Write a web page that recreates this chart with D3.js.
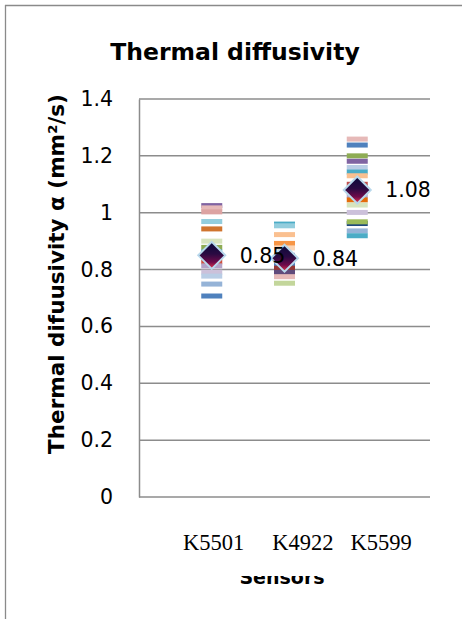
<!DOCTYPE html>
<html>
<head>
<meta charset="utf-8">
<script src="https://cdn.jsdelivr.net/npm/d3@7"></script>
<style>
  body { margin: 0; background: #fff; }
  text { font-family: 'DejaVu Sans', sans-serif; }
</style>
</head>
<body>
<svg id="chart" width="462" height="619"></svg>
<script>
'use strict';

let sensors = ["K5501", "K4922", "K5599"];
let means = [0.85, 0.84, 1.08];
let yTicks = [0, 0.2, 0.4, 0.6, 0.8, 1, 1.2, 1.4];

// measured values per sensor (drawn in this order)
let k5501Values = [1.025, 1.017, 1.003, 0.969, 0.943, 0.900, 0.878, 0.862, 0.827, 0.813, 0.791, 0.777, 0.749, 0.707];
let k4922Values = [0.960, 0.954, 0.923, 0.892, 0.876, 0.850, 0.820, 0.805, 0.790, 0.775, 0.752];
let k5599Values = [1.259, 1.238, 1.200, 1.181, 1.159, 1.143, 1.130, 1.100, 1.060, 1.045, 1.027, 1.001, 0.962, 0.968, 0.936, 0.919];

let k5501Colors = ["#8064a2", "#e6b9b8", "#dca3a2", "#93cddd", "#d0742e", "#d7e4bd", "#8eac54", "#4bacc6", "#d0503d", "#b3a2c7", "#ccc1da", "#b9cde5", "#95b3d7", "#4f81bd"];
let k4922Colors = ["#4bacc6", "#93cddd", "#fac090", "#f79646", "#fcd5b5", "#8064a2", "#4f81bd", "#953735", "#604a7b", "#e6b9b8", "#c3d69b"];
let k5599Colors = ["#e6b9b8", "#4f81bd", "#8eac54", "#8064a2", "#b9cde5", "#4bacc6", "#fac090", "#c0504d", "#b3a2c7", "#e46c0a", "#d7e4bd", "#ccc1da", "#1f497d", "#9bbb59", "#95b3d7", "#4bacc6"];

let allValues = [k5501Values, k4922Values, k5599Values];
let allColors = [k5501Colors, k4922Colors, k5599Colors];

function getChartConfig() {
    let plot = { left: 139, right: 430, top: 99, bottom: 497 };
    let svg = d3.select("#chart");
    return { svg, plot };
}

function getScales(config) {
    let { plot } = config;
    let xScale = d3.scaleLinear().domain([0, 4]).range([plot.left, plot.right]);
    let yScale = d3.scaleLinear().domain([0, 1.4]).range([plot.bottom, plot.top]);
    return { xScale, yScale };
}

function drawFrame(config) {
    let { svg } = config;
    svg.append("line")
        .attr("x1", 5).attr("x2", 462).attr("y1", 5.5).attr("y2", 5.5)
        .style("stroke", "#8a8a8a").style("stroke-width", 1.3);
    svg.append("line")
        .attr("x1", 5.5).attr("x2", 5.5).attr("y1", 5).attr("y2", 619)
        .style("stroke", "#8a8a8a").style("stroke-width", 1.3);

    svg.append("text")
        .attr("x", 235).attr("y", 60)
        .attr("text-anchor", "middle")
        .style("font-size", "23.5px").style("font-weight", "bold")
        .text("Thermal diffusivity");
}

function drawAxes(config, scales) {
    let { svg, plot } = config;
    let { xScale, yScale } = scales;

    yTicks.forEach(t => {
        svg.append("line")
            .attr("x1", plot.left).attr("x2", plot.right)
            .attr("y1", yScale(t)).attr("y2", yScale(t))
            .style("stroke", "#8c8c8c").style("stroke-width", 1.5);
    });

    let yAxis = d3.axisLeft(yScale).tickValues(yTicks).tickSize(0).tickPadding(26)
        .tickFormat(d => d);
    let g = svg.append("g")
        .attr("transform", "translate(" + plot.left + ",0)")
        .call(yAxis);
    g.select(".domain").style("stroke", "#8c8c8c").style("stroke-width", 1.5);
    g.selectAll("text")
        .style("font-family", "'DejaVu Sans', sans-serif")
        .style("font-size", "20.5px").style("fill", "#000");

    svg.append("text")
        .attr("transform", "translate(64,274) rotate(-90)")
        .attr("text-anchor", "middle")
        .style("font-size", "21.5px").style("font-weight", "bold")
        .text("Thermal difuusivity \u03b1 (mm\u00b2/s)");

    // axis title, partly hidden behind the label box
    svg.append("text")
        .attr("x", 282).attr("y", 584)
        .attr("text-anchor", "middle")
        .style("font-size", "19px").style("font-weight", "bold")
        .text("Sensors");
    svg.append("rect")
        .attr("x", 170).attr("y", 520).attr("width", 260).attr("height", 56)
        .style("fill", "#fff");
    svg.append("text")
        .attr("x", 183).attr("y", 550)
        .attr("xml:space", "preserve")
        .style("white-space", "pre")
        .style("font-family", "'Liberation Serif', 'Times New Roman', serif")
        .style("font-size", "22.5px")
        .text(sensors[0] + "     " + sensors[1] + "   " + sensors[2]);
}

function drawPoints(config, scales) {
    let { svg } = config;
    let { xScale, yScale } = scales;

    allValues.forEach((vals, i) => {
        svg.append("g").selectAll("rect")
            .data(vals)
            .enter().append("rect")
            .attr("x", xScale(i + 1) - 10.5)
            .attr("y", d => yScale(d) - 2.5)
            .attr("width", 21).attr("height", 5)
            .attr("fill", (d, j) => allColors[i][j]);
    });

    let defs = svg.append("defs");
    let grad = defs.append("linearGradient").attr("id", "meanGrad")
        .attr("x1", 0).attr("x2", 0).attr("y1", 0).attr("y2", 1);
    grad.append("stop").attr("offset", "0%").attr("stop-color", "#0a0a3a");
    grad.append("stop").attr("offset", "45%").attr("stop-color", "#2a0a42");
    grad.append("stop").attr("offset", "75%").attr("stop-color", "#6e0a4a");
    grad.append("stop").attr("offset", "100%").attr("stop-color", "#e8384a");

    let diamond = {
        draw(ctx, size) {
            let r = Math.sqrt(size) / 2;
            ctx.moveTo(0, -r); ctx.lineTo(r, 0); ctx.lineTo(0, r); ctx.lineTo(-r, 0); ctx.closePath();
        }
    };

    svg.append("g").selectAll("path")
        .data(means)
        .enter().append("path")
        .attr("transform", (d, i) => "translate(" + xScale(i + 1) + "," + yScale(d) + ")")
        .attr("d", d3.symbol().type(diamond).size(27 * 27))
        .attr("fill", "url(#meanGrad)")
        .style("stroke", "#b8d8ec").style("stroke-width", 2);

    svg.append("g").selectAll("text")
        .data(means)
        .enter().append("text")
        .attr("x", (d, i) => xScale(i + 1) + 28)
        .attr("y", d => yScale(d) + 7.5)
        .style("font-size", "20.5px")
        .text(d => d.toFixed(2));
}

function drawChart() {
    let config = getChartConfig();
    let scales = getScales(config);
    drawFrame(config);
    drawAxes(config, scales);
    drawPoints(config, scales);
}

drawChart();
</script>
</body>
</html>
